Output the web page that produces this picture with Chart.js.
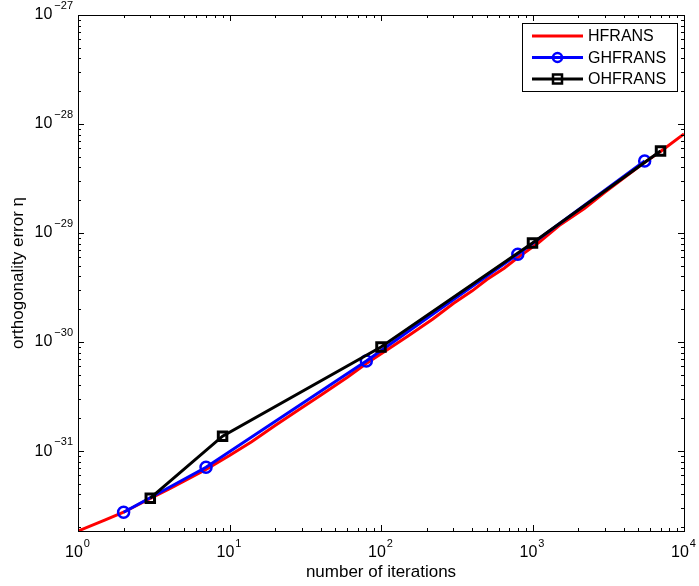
<!DOCTYPE html>
<html>
<head>
<meta charset="utf-8">
<script src="https://cdn.jsdelivr.net/npm/chart.js@4.4.1/dist/chart.umd.min.js"></script>
<style>
  html, body { margin: 0; padding: 0; background: #fff; }
  #wrap { width: 699px; height: 586px; }
</style>
</head>
<body>
<div id="wrap"><canvas id="c"></canvas></div>
<script>
// HFRANS (continuous curve)
const hfransX = [1, 1.5, 2, 3, 4, 5, 7, 10, 14, 20, 28, 40, 60, 80, 110, 150, 220, 300, 400, 500, 650, 800, 1100, 1500, 2200, 3000, 4000, 5500, 7000, 10000];
const hfransY = [1.85e-32, 2.33e-32, 2.75e-32, 3.68e-32, 4.5e-32, 5.3e-32, 6.8e-32, 9.1e-32, 1.22e-31, 1.72e-31, 2.35e-31, 3.25e-31, 4.75e-31, 6.35e-31, 8.5e-31, 1.13e-30, 1.63e-30, 2.26e-30, 2.95e-30, 3.75e-30, 4.75e-30, 5.95e-30, 8.2e-30, 1.17e-29, 1.68e-29, 2.36e-29, 3.2e-29, 4.45e-29, 5.6e-29, 8.1e-29];
// GHFRANS
const ghfransX = [2, 7, 80, 800, 5500];
const ghfransY = [2.75e-32, 7.1e-32, 6.7e-31, 6.4e-30, 4.58e-29];
// OHFRANS
const ohfransX = [3, 9, 100, 1000, 7000];
const ohfransY = [3.7e-32, 1.37e-31, 9.0e-31, 8.1e-30, 5.65e-29];

const xMin = 1, xMax = 1e4;
const yMin = 1.85e-32, yMax = 1e-27;
const xDecades = [0, 1, 2, 3, 4];
const yDecades = [-31, -30, -29, -28, -27];

const FONT = '"Liberation Sans", Arial, Helvetica, sans-serif';

function pts(xs, ys) { return xs.map((v, i) => ({ x: v, y: ys[i] })); }

const frame = {
  id: 'frame',
  afterDraw(chart) {
    const { ctx, chartArea: a, scales: { x, y } } = chart;
    ctx.save();
    ctx.strokeStyle = '#000';
    ctx.lineWidth = 1;
    ctx.strokeRect(Math.round(a.left) + 0.5, Math.round(a.top) + 0.5, Math.round(a.right - a.left), Math.round(a.bottom - a.top));
    ctx.beginPath();
    // x ticks
    for (let d = -1; d <= 4; d++) {
      for (let m = 1; m <= 9; m++) {
        const v = m * Math.pow(10, d);
        if (v < xMin || v > xMax) continue;
        const px = Math.round(x.getPixelForValue(v)) + 0.5;
        const len = m === 1 ? 6 : 3;
        ctx.moveTo(px, a.bottom); ctx.lineTo(px, a.bottom - len);
        ctx.moveTo(px, a.top); ctx.lineTo(px, a.top + len);
      }
    }
    // y ticks
    for (let d = -33; d <= -27; d++) {
      for (let m = 1; m <= 9; m++) {
        const v = m * Math.pow(10, d);
        if (v < yMin || v > yMax * 1.0001) continue;
        const py = Math.round(y.getPixelForValue(v)) + 0.5;
        const len = m === 1 ? 6 : 3;
        ctx.moveTo(a.left, py); ctx.lineTo(a.left + len, py);
        ctx.moveTo(a.right, py); ctx.lineTo(a.right - len, py);
      }
    }
    ctx.stroke();

    // tick labels 10^n
    ctx.fillStyle = '#000';
    ctx.textBaseline = 'middle';
    const big = '16px ' + FONT, small = '11px ' + FONT;
    xDecades.forEach(d => {
      const px = x.getPixelForValue(Math.pow(10, d));
      ctx.font = big; const w1 = ctx.measureText('10').width;
      const e = String(d);
      ctx.font = small; const w2 = ctx.measureText(e).width;
      const x0 = px - (w1 + w2) / 2 - 1;
      ctx.font = big; ctx.textAlign = 'left'; ctx.fillText('10', x0, a.bottom + 22);
      ctx.font = small; ctx.fillText(e, x0 + w1 + 1, a.bottom + 13);
    });
    yDecades.forEach(d => {
      const py = y.getPixelForValue(Math.pow(10, d));
      const e = '\u2212' + String(-d);
      ctx.font = small; const w2 = ctx.measureText(e).width;
      ctx.textAlign = 'left';
      const xr = a.left - 5;
      ctx.fillText(e, xr - w2, py - 9);
      ctx.font = big; const w1 = ctx.measureText('10').width;
      ctx.fillText('10', xr - w2 - w1 - 2, py);
    });

    // legend
    const lx = 522, ly = 23, lw = 155, lh = 68;
    ctx.fillStyle = '#fff';
    ctx.fillRect(lx, ly, lw, lh);
    ctx.strokeStyle = '#000';
    ctx.lineWidth = 1;
    ctx.strokeRect(lx + 0.5, ly + 0.5, lw, lh);
    const rows = [
      { label: 'HFRANS', color: '#ff0000', marker: null },
      { label: 'GHFRANS', color: '#0000ff', marker: 'circle' },
      { label: 'OHFRANS', color: '#000000', marker: 'rect' }
    ];
    rows.forEach((r, i) => {
      const cy = ly + 13 + i * 21.5;
      ctx.strokeStyle = r.color;
      ctx.lineWidth = 3;
      ctx.beginPath(); ctx.moveTo(532, cy); ctx.lineTo(583, cy); ctx.stroke();
      ctx.lineWidth = 2.5;
      if (r.marker === 'circle') {
        ctx.beginPath(); ctx.arc(557.5, cy, 4.5, 0, Math.PI * 2); ctx.stroke();
      } else if (r.marker === 'rect') {
        ctx.strokeRect(553, cy - 4.5, 9, 9);
      }
      ctx.fillStyle = '#000';
      ctx.font = '16px ' + FONT;
      ctx.textAlign = 'left';
      ctx.textBaseline = 'middle';
      ctx.fillText(r.label, 588, cy + 1);
    });
    ctx.restore();
  }
};

new Chart(document.getElementById('c'), {
  type: 'line',
  data: {
    datasets: [
      {
        label: 'HFRANS', data: pts(hfransX, hfransY),
        borderColor: '#ff0000', borderWidth: 3, pointRadius: 0, order: 3, tension: 0
      },
      {
        label: 'GHFRANS', data: pts(ghfransX, ghfransY),
        borderColor: '#0000ff', borderWidth: 3, pointStyle: 'circle', pointRadius: 5.5,
        pointBorderWidth: 2.5, pointBorderColor: '#0000ff', pointBackgroundColor: 'rgba(0,0,0,0)', order: 2
      },
      {
        label: 'OHFRANS', data: pts(ohfransX, ohfransY),
        borderColor: '#000000', borderWidth: 3, pointStyle: 'rect', pointRadius: 6,
        pointBorderWidth: 3, pointBorderColor: '#000000', pointBackgroundColor: 'rgba(0,0,0,0)', order: 1
      }
    ]
  },
  options: {
    responsive: true,
    maintainAspectRatio: false,
    animation: false,
    events: [],
    layout: { padding: { left: 0, top: 15, right: 15, bottom: 0 } },
    plugins: { legend: { display: false }, tooltip: { enabled: false } },
    scales: {
      x: {
        type: 'logarithmic', min: xMin, max: xMax,
        grid: { display: false, drawTicks: false },
        border: { display: false },
        ticks: { display: false },
        title: { display: true, text: 'number of iterations', color: '#000', font: { family: FONT, size: 17 }, padding: { top: 4, bottom: 3 } },
        afterFit(s) { s.height = 55; }
      },
      y: {
        type: 'logarithmic', min: yMin, max: yMax,
        grid: { display: false, drawTicks: false },
        border: { display: false },
        ticks: { display: false },
        title: { display: true, text: 'orthogonality error \u03b7', color: '#000', font: { family: FONT, size: 17 }, padding: { top: 8, bottom: 4 } },
        afterFit(s) { s.width = 78; }
      }
    }
  },
  plugins: [frame]
});
</script>
</body>
</html>
